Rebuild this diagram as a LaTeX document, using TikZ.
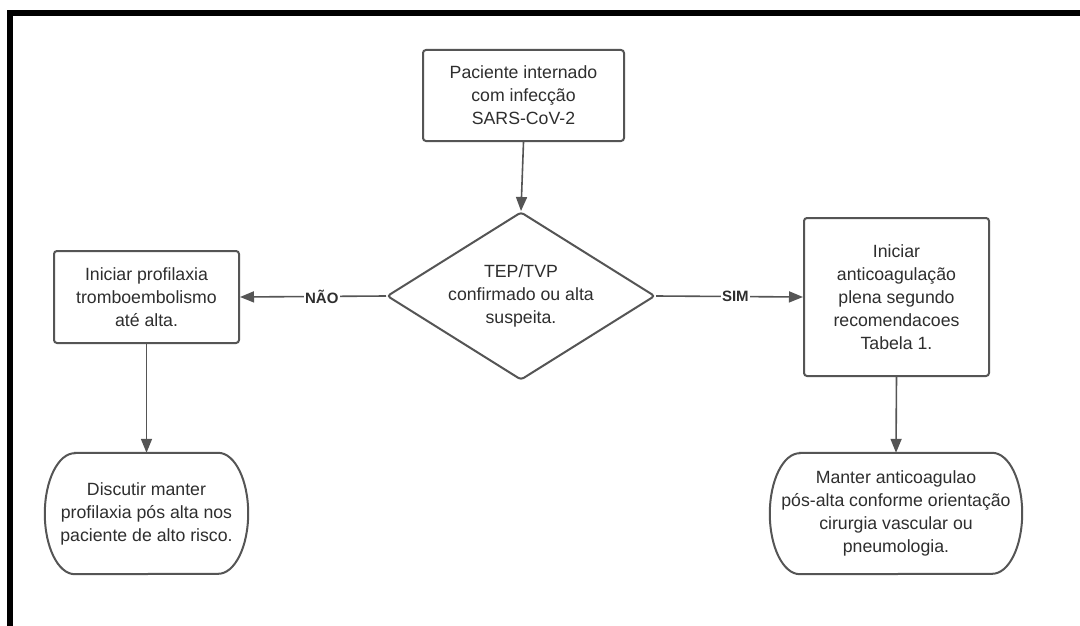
\documentclass[tikz,border=0pt]{standalone}
\usepackage{fontspec}
\setmainfont{Liberation Sans}
\usetikzlibrary{shapes.geometric,arrows.meta}
\definecolor{linegray}{HTML}{555555}
\definecolor{textgray}{HTML}{2E2E2E}
\begin{document}
\begin{tikzpicture}[x=1pt,y=1pt,
  every node/.style={text=textgray, font=\fontsize{17.7}{23}\selectfont, align=center},
  procbox/.style={draw=linegray, line width=2pt, rounded corners=3pt, inner sep=0pt},
  decis/.style={draw=linegray, line width=2pt, diamond, rounded corners=3pt, inner sep=0pt, aspect=1.6, minimum width=268pt, minimum height=168pt},
  termshape/.style={inner sep=0pt},
  conn/.style={draw=linegray, line width=1.6pt, -{Triangle[length=14pt,width=11pt]}},
  edgelabel/.style={fill=white, inner sep=1.5pt, font=\fontsize{15}{17}\selectfont\bfseries, text=textgray}
]
\useasboundingbox (0,0) rectangle (1080,-626);
\fill[white] (0,0) rectangle (1080,-626);
% outer frame
\draw[black, line width=6pt] (1090,-13) -- (10,-13) -- (10,-640);

% nodes
\node[procbox, minimum width=201pt, minimum height=91pt] (start) at (523.5,-95.5)
  {Paciente internado\\com infecção\\SARS-CoV-2};
\node[decis] (dec) at (521,-296) {TEP/TVP\\confirmado ou alta\\suspeita.};
\node[procbox, minimum width=185pt, minimum height=92pt] (prof) at (146.5,-297)
  {Iniciar profilaxia\\tromboembolismo\\até alta.};
\node[procbox, minimum width=185pt, minimum height=158pt] (antic) at (896.5,-297)
  {Iniciar\\anticoagulação\\plena segundo\\recomendacoes\\Tabela 1.};
\node[termshape, minimum width=203pt, minimum height=121pt] (disc) at (146.5,-513.5)
  {Discutir manter\\profilaxia pós alta nos\\paciente de alto risco.};
\node[termshape, minimum width=252pt, minimum height=121pt] (mant) at (896,-513.5)
  {Manter anticoagulao\\pós-alta conforme orientação\\cirurgia vascular ou\\pneumologia.};

% terminator outlines
\foreach \n in {disc,mant}{
  \draw[draw=linegray, line width=2pt]
    ([xshift=30pt]\n.north west) -- ([xshift=-30pt]\n.north east)
    arc[start angle=90, end angle=-90, x radius=30pt, y radius=60.5pt]
    -- ([xshift=30pt]\n.south west)
    arc[start angle=270, end angle=90, x radius=30pt, y radius=60.5pt]
    -- cycle;
}

% connectors
\draw[conn] (start.south) -- (dec.north);
\draw[conn] (dec.west) -- node[edgelabel, pos=0.44] {NÃO} (prof.east);
\draw[conn] (dec.east) -- node[edgelabel, pos=0.54] {SIM} (antic.west);
\draw[conn] (prof.south) -- (disc.north);
\draw[conn] (antic.south) -- (mant.north);
\end{tikzpicture}
\end{document}
